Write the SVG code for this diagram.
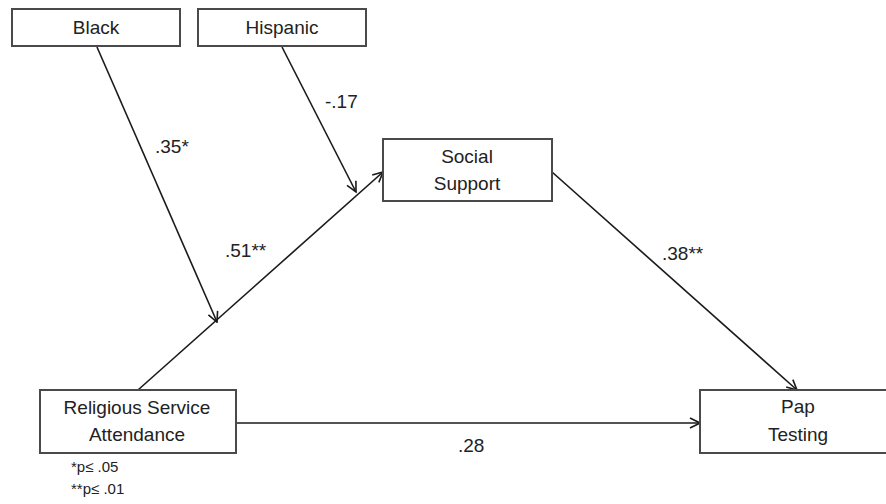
<svg xmlns="http://www.w3.org/2000/svg" width="886" height="504" viewBox="0 0 886 504">
<defs>
<style>
.box{fill:#fff;stroke:#4a4a4a;stroke-width:2}
.t{font-family:"Liberation Sans",Arial,sans-serif;font-size:19px;fill:#222;text-anchor:middle}
.lbl{font-family:"Liberation Sans",Arial,sans-serif;font-size:19px;fill:#222}
.fn{font-family:"Liberation Sans",Arial,sans-serif;font-size:15px;fill:#222}
.c{stroke:#1a1a1a;stroke-width:1.6;fill:none;marker-end:url(#ah)}
</style>
<marker id="ah" viewBox="0 0 12 12" refX="11" refY="6" markerWidth="12" markerHeight="12" markerUnits="userSpaceOnUse" orient="auto">
<path d="M1,1 L11,6 L1,11" fill="none" stroke="#1a1a1a" stroke-width="1.6"/>
</marker>
</defs>
<rect width="886" height="504" fill="#fff"/>
<g id="connectors">
<line class="c" x1="97" y1="47" x2="217" y2="322"/>
<line class="c" x1="282" y1="47" x2="356" y2="192"/>
<line class="c" x1="138" y1="390" x2="383" y2="172"/>
<line class="c" x1="552" y1="172" x2="797" y2="390"/>
<line class="c" x1="236" y1="423" x2="700" y2="423"/>
<text class="lbl" x="155" y="153">.35*</text>
<text class="lbl" x="325" y="108">-.17</text>
<text class="lbl" x="225" y="257">.51**</text>
<text class="lbl" x="662" y="260">.38**</text>
<text class="lbl" x="458" y="452">.28</text>
</g>
<g id="black">
<rect class="box" x="12" y="9" width="168" height="37"/>
<text class="t" x="96" y="34">Black</text>
</g>
<g id="hispanic">
<rect class="box" x="198" y="9" width="168" height="37"/>
<text class="t" x="282" y="34">Hispanic</text>
</g>
<g id="social-support">
<rect class="box" x="383" y="139" width="169" height="62"/>
<text class="t" x="467" y="163">Social</text>
<text class="t" x="467" y="190">Support</text>
</g>
<g id="religious">
<rect class="box" x="40" y="390" width="196" height="63"/>
<text class="t" x="137" y="414">Religious Service</text>
<text class="t" x="137" y="441">Attendance</text>
</g>
<g id="pap">
<rect class="box" x="700" y="390" width="200" height="63"/>
<text class="t" x="798" y="413">Pap</text>
<text class="t" x="798" y="441">Testing</text>
</g>
<g id="footnote">
<text class="fn" x="71" y="472">*p≤ .05</text>
<text class="fn" x="71" y="494">**p≤ .01</text>
</g>
</svg>
